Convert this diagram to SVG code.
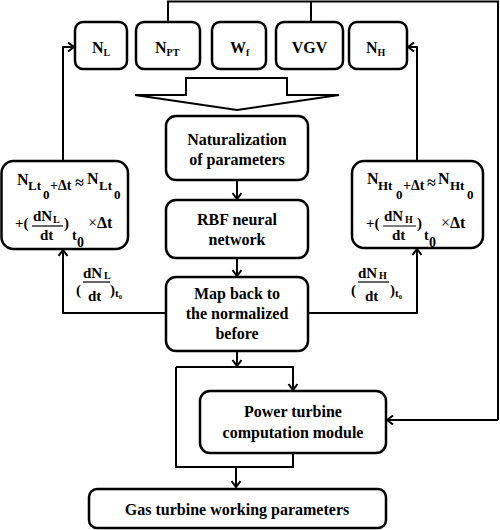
<svg xmlns="http://www.w3.org/2000/svg" width="500" height="530" viewBox="0 0 500 530" font-family="'Liberation Serif', 'DejaVu Serif', serif">
<defs>
<marker id="ah" markerUnits="userSpaceOnUse" markerWidth="10" markerHeight="12" refX="7" refY="5" orient="auto">
<path d="M1,0.5 L7,5 L1,9.5" fill="none" stroke="#000" stroke-width="2"/>
</marker>
</defs>
<style>
.box{fill:#fff;stroke:#000;stroke-width:2.5}
.ln{fill:none;stroke:#000;stroke-width:2}
.arr{fill:none;stroke:#000;stroke-width:2;marker-end:url(#ah)}
text{font-family:'Liberation Serif','DejaVu Serif',serif;font-weight:bold;fill:#000}
.t{font-size:16px;text-anchor:middle}
.s{font-size:10px}
.m{font-size:16px}
.f{font-size:13px}
.x{font-weight:normal}
</style>
<rect width="500" height="530" fill="#fff"/>
<g id="connectors">
<polyline class="ln" points="168,22 168,1.5 498,1.5 498,420"/>
<line class="ln" x1="311" y1="22" x2="311" y2="1.5"/>
<line class="arr" x1="498" y1="420" x2="387" y2="420"/>
<polyline class="arr" points="63,161 63,47 74,47"/>
<polyline class="arr" points="417,161 417,47 408,47"/>
<line class="arr" x1="237" y1="180" x2="237" y2="199"/>
<line class="arr" x1="237" y1="258" x2="237" y2="276"/>
<polyline class="arr" points="166,313 63,313 63,250"/>
<polyline class="arr" points="308,313 417,313 417,249"/>
<line class="arr" x1="237" y1="351" x2="237" y2="366"/>
<polyline class="arr" points="176,367 293,367 293,390"/>
<polyline class="ln" points="176,367 176,467 293,467 293,453"/>
<line class="arr" x1="236" y1="467" x2="236" y2="487"/>
</g>
<g id="bigarrow">
<polygon points="186,78 287,78 287,95 339,95 237,110 135,95 186,95" fill="#fff" stroke="#000" stroke-width="2"/>
</g>
<g id="NL">
<rect class="box" x="75" y="22" width="52" height="47" rx="8"/>
<text x="92" y="53" class="m">N<tspan class="s" dy="3">L</tspan></text>
</g>
<g id="NPT">
<rect class="box" x="136" y="22" width="64" height="47" rx="8"/>
<text x="155" y="53" class="m">N<tspan class="s" dy="3">PT</tspan></text>
</g>
<g id="Wf">
<rect class="box" x="212" y="22" width="54" height="47" rx="8"/>
<text x="230" y="53" class="m">W<tspan class="s" dy="3">f</tspan></text>
</g>
<g id="VGV">
<rect class="box" x="276" y="22" width="67" height="47" rx="8"/>
<text x="309.5" y="53" class="t">VGV</text>
</g>
<g id="NH">
<rect class="box" x="349" y="22" width="58" height="47" rx="8"/>
<text x="366" y="53" class="m">N<tspan class="s" dy="3">H</tspan></text>
</g>
<g id="naturalization">
<rect class="box" x="166" y="116" width="142" height="64" rx="10"/>
<text x="237" y="145" class="t">Naturalization</text>
<text x="237" y="165" class="t">of parameters</text>
</g>
<g id="rbf">
<rect class="box" x="166" y="200" width="142" height="58" rx="10"/>
<text x="237" y="225" class="t">RBF neural</text>
<text x="237" y="245" class="t">network</text>
</g>
<g id="mapback">
<rect class="box" x="166" y="277" width="142" height="74" rx="10"/>
<text x="237" y="299" class="t">Map back to</text>
<text x="237" y="319" class="t">the normalized</text>
<text x="237" y="339" class="t">before</text>
</g>
<g id="powerturbine">
<rect class="box" x="200" y="391" width="186" height="62" rx="10"/>
<text x="293" y="417" class="t">Power turbine</text>
<text x="293" y="438" class="t">computation module</text>
</g>
<g id="gasturbine">
<rect class="box" x="89" y="489" width="297" height="39" rx="8"/>
<text x="237" y="515" class="t">Gas turbine working parameters</text>
</g>
<g id="formulaL">
<rect class="box" x="1.5" y="161" width="126.5" height="88" rx="12"/>
<text x="17" y="185" class="m">N</text>
<text x="28" y="190" class="f">Lt</text>
<text x="43" y="199" class="f">0</text>
<text x="50" y="190" font-size="14">+Δt</text>
<text x="75" y="188" class="m">≈</text>
<text x="87" y="184" class="m">N</text>
<text x="99" y="190" class="f">Lt</text>
<text x="114" y="199" class="f">0</text>
<text x="15" y="228" font-size="15">+(</text>
<text x="33" y="221" font-size="15">dN</text>
<text x="53" y="223" class="s">L</text>
<line x1="32" y1="226" x2="63" y2="226" stroke="#000" stroke-width="1.2"/>
<text x="40" y="240" font-size="15">dt</text>
<text x="64" y="228" font-size="15">)</text>
<text x="72" y="240" font-size="14">t</text>
<text x="77" y="247" font-size="14">0</text>
<text x="88" y="228" font-size="16"><tspan class="x">×</tspan>Δt</text>
</g>
<g id="formulaH">
<rect class="box" x="352" y="161" width="131" height="87" rx="12"/>
<text x="367" y="184" class="m">N</text>
<text x="378" y="190" class="f">Ht</text>
<text x="396" y="199" class="f">0</text>
<text x="403" y="190" font-size="14">+Δt</text>
<text x="427" y="188" class="m">≈</text>
<text x="438" y="184" class="m">N</text>
<text x="450" y="190" class="f">Ht</text>
<text x="467" y="199" class="f">0</text>
<text x="366" y="228" font-size="15">+(</text>
<text x="384" y="221" font-size="15">dN</text>
<text x="405" y="223" class="s">H</text>
<line x1="383" y1="226" x2="416" y2="226" stroke="#000" stroke-width="1.2"/>
<text x="392" y="240" font-size="15">dt</text>
<text x="417" y="228" font-size="15">)</text>
<text x="424" y="240" font-size="14">t</text>
<text x="429" y="247" font-size="14">0</text>
<text x="441" y="228" font-size="16"><tspan class="x">×</tspan>Δt</text>
</g>
<g id="labelL">
<text x="76" y="295" font-size="15">(</text>
<text x="83" y="278" font-size="15">dN</text>
<text x="104" y="279" class="s">L</text>
<line x1="83" y1="282" x2="110" y2="282" stroke="#000" stroke-width="1.2"/>
<text x="88" y="301" font-size="15">dt</text>
<text x="110" y="295" font-size="15">)</text>
<text x="115" y="297" font-size="11">t₀</text>
</g>
<g id="labelH">
<text x="351" y="295" font-size="15">(</text>
<text x="358" y="278" font-size="15">dN</text>
<text x="379" y="279" class="s">H</text>
<line x1="358" y1="282" x2="389" y2="282" stroke="#000" stroke-width="1.2"/>
<text x="365" y="301" font-size="15">dt</text>
<text x="390" y="295" font-size="15">)</text>
<text x="395" y="297" font-size="11">t₀</text>
</g>
</svg>
